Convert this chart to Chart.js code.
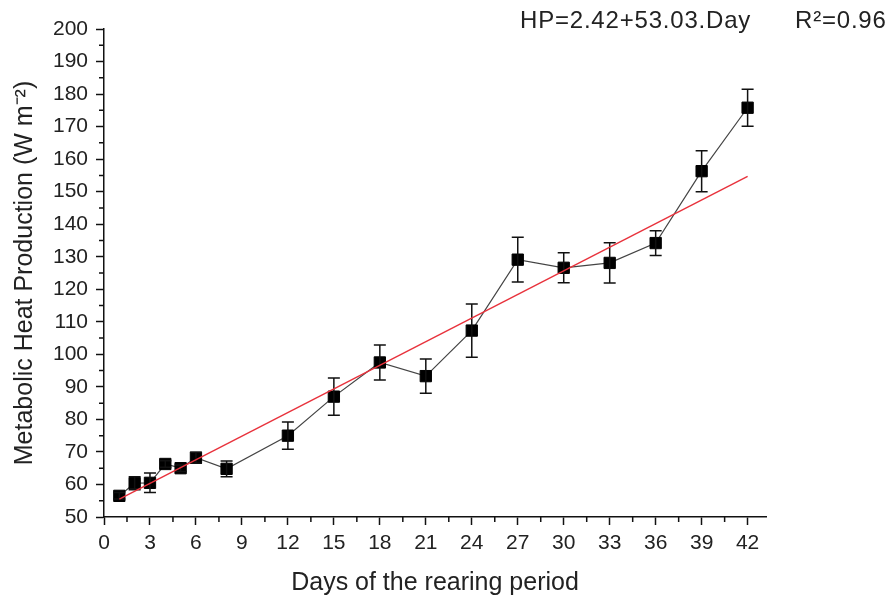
<!DOCTYPE html>
<html>
<head>
<meta charset="utf-8">
<script src="https://cdn.jsdelivr.net/npm/chart.js@4.4.1/dist/chart.umd.min.js"></script>
<style>
    html, body { margin: 0; padding: 0; background: #fff; }
    #wrap { width: 890px; height: 600px; }
</style>
</head>
<body>
<div id="wrap"><canvas id="heatChart"></canvas></div>
<script>
// days of rearing and mean heat production
const days = [1, 2, 3, 4, 5, 6, 8, 12, 15, 18, 21, 24, 27, 30, 33, 36, 39, 42];
const heat = [56.5, 60.4, 60.5, 66.3, 65.0, 68.2, 64.8, 75.0, 87.0, 97.5, 93.3, 107.3, 129.1, 126.6, 128.1, 134.2, 156.3, 175.8];
const heatErr = [1.0, 2.0, 3.0, 1.0, 1.0, 1.7, 2.4, 4.2, 5.7, 5.4, 5.3, 8.2, 6.9, 4.6, 6.2, 3.8, 6.3, 5.7];

// regression line end points
const fitDays = [1, 42];
const fitHeat = [55.5, 154.7];

const xTicks = [0, 3, 6, 9, 12, 15, 18, 21, 24, 27, 30, 33, 36, 39, 42];
const yTicks = [50, 60, 70, 80, 90, 100, 110, 120, 130, 140, 150, 160, 170, 180, 190, 200];
const xMinor = [1.5, 4.5, 7.5, 10.5, 13.5, 16.5, 19.5, 22.5, 25.5, 28.5, 31.5, 34.5, 37.5, 40.5];
const yMinor = [55, 65, 75, 85, 95, 105, 115, 125, 135, 145, 155, 165, 175, 185, 195];

const equationText = "HP=2.42+53.03.Day";
const r2Text = "R\u00B2=0.96";

const FONT = "'Liberation Sans', Arial, Helvetica, sans-serif";

const extras = {
    id: "extras",
    afterDatasetDraw(chart, args) {
        if (args.index !== 1) return;
        const ctx = chart.ctx;
        const x = chart.scales.x;
        const y = chart.scales.y;
        ctx.save();
        ctx.strokeStyle = "#111";
        ctx.lineWidth = 1.5;
        days.forEach((d, i) => {
            const px = x.getPixelForValue(d);
            const top = y.getPixelForValue(heat[i] + heatErr[i]);
            const bot = y.getPixelForValue(heat[i] - heatErr[i]);
            ctx.beginPath();
            ctx.moveTo(px, top);
            ctx.lineTo(px, bot);
            ctx.moveTo(px - 6, top);
            ctx.lineTo(px + 6, top);
            ctx.moveTo(px - 6, bot);
            ctx.lineTo(px + 6, bot);
            ctx.stroke();
        });
        ctx.restore();
    },
    afterDraw(chart) {
        const ctx = chart.ctx;
        const x = chart.scales.x;
        const y = chart.scales.y;
        const area = chart.chartArea;
        ctx.save();
        ctx.strokeStyle = "#111";
        ctx.lineWidth = 1.5;
        ctx.beginPath();
        xMinor.forEach(v => {
            const px = x.getPixelForValue(v);
            ctx.moveTo(px, area.bottom);
            ctx.lineTo(px, area.bottom + 5);
        });
        yMinor.forEach(v => {
            const py = y.getPixelForValue(v);
            ctx.moveTo(area.left, py);
            ctx.lineTo(area.left - 5, py);
        });
        ctx.stroke();

        ctx.fillStyle = "#222";
        ctx.font = "24px " + FONT;
        ctx.letterSpacing = "0.8px";
        ctx.textBaseline = "middle";
        ctx.textAlign = "left";
        ctx.fillText(equationText, 520, 21);
        ctx.fillText(r2Text, 795, 21);
        ctx.restore();
    }
};

new Chart(document.getElementById("heatChart"), {
    type: "scatter",
    data: {
        datasets: [
            {
                label: "Fit",
                data: fitDays.map((d, i) => ({ x: d, y: fitHeat[i] })),
                showLine: true,
                borderColor: "#e8323c",
                borderWidth: 1.4,
                pointRadius: 0,
                order: 0
            },
            {
                label: "Heat production",
                data: days.map((d, i) => ({ x: d, y: heat[i] })),
                showLine: true,
                borderColor: "#444",
                borderWidth: 1.2,
                pointStyle: "rect",
                pointRadius: 8,
                pointBorderWidth: 1,
                pointBackgroundColor: "#000",
                pointBorderColor: "#000",
                order: 1
            }
        ]
    },
    options: {
        responsive: true,
        maintainAspectRatio: false,
        animation: false,
        layout: {
            padding: { top: 29, right: 124, left: 0, bottom: 0 }
        },
        plugins: {
            legend: { display: false },
            tooltip: { enabled: false }
        },
        scales: {
            x: {
                type: "linear",
                min: 0,
                max: 43.2,
                afterBuildTicks: s => { s.ticks = xTicks.map(v => ({ value: v })); },
                afterFit: s => { s.height = 83; },
                border: { color: "#111", width: 1.5 },
                grid: {
                    drawOnChartArea: false,
                    tickLength: 8,
                    tickColor: "#111",
                    tickWidth: 1.5
                },
                ticks: {
                    color: "#222",
                    padding: 6,
                    maxRotation: 0,
                    font: { family: FONT, size: 21 }
                },
                title: {
                    display: true,
                    text: "Days of the rearing period",
                    color: "#222",
                    padding: { top: 0, bottom: 2 },
                    font: { family: FONT, size: 25 }
                }
            },
            y: {
                type: "linear",
                min: 50,
                max: 200,
                afterBuildTicks: s => { s.ticks = yTicks.map(v => ({ value: v })); },
                afterFit: s => { s.width = 104; },
                border: { color: "#111", width: 1.5 },
                grid: {
                    drawOnChartArea: false,
                    tickLength: 8,
                    tickColor: "#111",
                    tickWidth: 1.5
                },
                ticks: {
                    color: "#222",
                    padding: 8,
                    font: { family: FONT, size: 21 }
                },
                title: {
                    display: true,
                    text: "Metabolic Heat Production (W m\u207B\u00B2)",
                    color: "#222",
                    padding: { top: 10, bottom: 0 },
                    font: { family: FONT, size: 25 }
                }
            }
        }
    },
    plugins: [extras]
});
</script>
</body>
</html>
